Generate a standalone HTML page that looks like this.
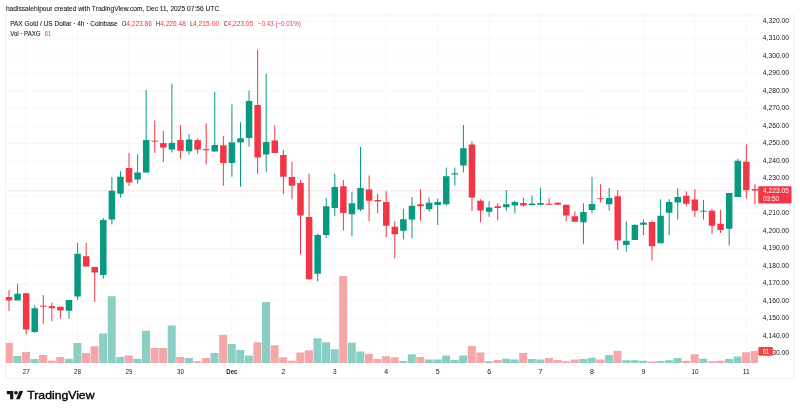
<!DOCTYPE html>
<html><head><meta charset="utf-8"><style>
html,body{margin:0;padding:0;background:#fff;}
body{width:800px;height:412px;overflow:hidden;font-family:"Liberation Sans",sans-serif;}
svg{display:block;}
text{will-change:transform;}
</style></head><body>
<svg width="800" height="412" viewBox="0 0 800 412">
<defs><clipPath id="pane"><rect x="5.5" y="15.0" width="752.5" height="363.6"/></clipPath></defs>
<rect width="800" height="412" fill="#fff"/>
<rect x="5.5" y="20.65" width="752.50" height="1" fill="#F7F7F8"/>
<rect x="5.5" y="38.13" width="752.50" height="1" fill="#F7F7F8"/>
<rect x="5.5" y="55.61" width="752.50" height="1" fill="#F7F7F8"/>
<rect x="5.5" y="73.09" width="752.50" height="1" fill="#F7F7F8"/>
<rect x="5.5" y="90.57" width="752.50" height="1" fill="#F7F7F8"/>
<rect x="5.5" y="108.05" width="752.50" height="1" fill="#F7F7F8"/>
<rect x="5.5" y="125.53" width="752.50" height="1" fill="#F7F7F8"/>
<rect x="5.5" y="143.01" width="752.50" height="1" fill="#F7F7F8"/>
<rect x="5.5" y="160.49" width="752.50" height="1" fill="#F7F7F8"/>
<rect x="5.5" y="177.97" width="752.50" height="1" fill="#F7F7F8"/>
<rect x="5.5" y="195.45" width="752.50" height="1" fill="#F7F7F8"/>
<rect x="5.5" y="212.93" width="752.50" height="1" fill="#F7F7F8"/>
<rect x="5.5" y="230.41" width="752.50" height="1" fill="#F7F7F8"/>
<rect x="5.5" y="247.89" width="752.50" height="1" fill="#F7F7F8"/>
<rect x="5.5" y="265.37" width="752.50" height="1" fill="#F7F7F8"/>
<rect x="5.5" y="282.85" width="752.50" height="1" fill="#F7F7F8"/>
<rect x="5.5" y="300.33" width="752.50" height="1" fill="#F7F7F8"/>
<rect x="5.5" y="317.81" width="752.50" height="1" fill="#F7F7F8"/>
<rect x="5.5" y="335.29" width="752.50" height="1" fill="#F7F7F8"/>
<rect x="5.5" y="352.77" width="752.50" height="1" fill="#F7F7F8"/>
<rect x="25.65" y="15.0" width="1" height="349.00" fill="#F7F7F8"/>
<rect x="77.09" y="15.0" width="1" height="349.00" fill="#F7F7F8"/>
<rect x="128.53" y="15.0" width="1" height="349.00" fill="#F7F7F8"/>
<rect x="179.97" y="15.0" width="1" height="349.00" fill="#F7F7F8"/>
<rect x="231.41" y="15.0" width="1" height="349.00" fill="#F7F7F8"/>
<rect x="282.86" y="15.0" width="1" height="349.00" fill="#F7F7F8"/>
<rect x="334.30" y="15.0" width="1" height="349.00" fill="#F7F7F8"/>
<rect x="385.74" y="15.0" width="1" height="349.00" fill="#F7F7F8"/>
<rect x="437.18" y="15.0" width="1" height="349.00" fill="#F7F7F8"/>
<rect x="488.62" y="15.0" width="1" height="349.00" fill="#F7F7F8"/>
<rect x="540.06" y="15.0" width="1" height="349.00" fill="#F7F7F8"/>
<rect x="591.50" y="15.0" width="1" height="349.00" fill="#F7F7F8"/>
<rect x="642.94" y="15.0" width="1" height="349.00" fill="#F7F7F8"/>
<rect x="694.38" y="15.0" width="1" height="349.00" fill="#F7F7F8"/>
<rect x="745.82" y="15.0" width="1" height="349.00" fill="#F7F7F8"/>
<g clip-path="url(#pane)">
<rect x="4.80" y="343.00" width="8.0" height="20.00" fill="#F5A6A8"/>
<rect x="13.38" y="356.00" width="8.0" height="7.00" fill="#8BCFC4"/>
<rect x="21.95" y="352.00" width="8.0" height="11.00" fill="#F5A6A8"/>
<rect x="30.52" y="359.00" width="8.0" height="4.00" fill="#8BCFC4"/>
<rect x="39.10" y="355.00" width="8.0" height="8.00" fill="#F5A6A8"/>
<rect x="47.67" y="360.75" width="8.0" height="2.25" fill="#F5A6A8"/>
<rect x="56.24" y="357.00" width="8.0" height="6.00" fill="#F5A6A8"/>
<rect x="64.82" y="358.75" width="8.0" height="4.25" fill="#8BCFC4"/>
<rect x="73.39" y="343.00" width="8.0" height="20.00" fill="#8BCFC4"/>
<rect x="81.96" y="353.00" width="8.0" height="10.00" fill="#F5A6A8"/>
<rect x="90.54" y="346.25" width="8.0" height="16.75" fill="#F5A6A8"/>
<rect x="99.11" y="333.50" width="8.0" height="29.50" fill="#8BCFC4"/>
<rect x="107.69" y="296.25" width="8.0" height="66.75" fill="#8BCFC4"/>
<rect x="116.26" y="357.00" width="8.0" height="6.00" fill="#8BCFC4"/>
<rect x="124.83" y="355.50" width="8.0" height="7.50" fill="#F5A6A8"/>
<rect x="133.41" y="358.75" width="8.0" height="4.25" fill="#8BCFC4"/>
<rect x="141.98" y="330.75" width="8.0" height="32.25" fill="#8BCFC4"/>
<rect x="150.55" y="348.00" width="8.0" height="15.00" fill="#F5A6A8"/>
<rect x="159.13" y="348.00" width="8.0" height="15.00" fill="#F5A6A8"/>
<rect x="167.70" y="325.50" width="8.0" height="37.50" fill="#8BCFC4"/>
<rect x="176.27" y="357.00" width="8.0" height="6.00" fill="#F5A6A8"/>
<rect x="184.85" y="358.00" width="8.0" height="5.00" fill="#8BCFC4"/>
<rect x="193.42" y="361.25" width="8.0" height="1.75" fill="#F5A6A8"/>
<rect x="201.99" y="358.00" width="8.0" height="5.00" fill="#F5A6A8"/>
<rect x="210.57" y="353.00" width="8.0" height="10.00" fill="#8BCFC4"/>
<rect x="219.14" y="334.75" width="8.0" height="28.25" fill="#F5A6A8"/>
<rect x="227.71" y="344.00" width="8.0" height="19.00" fill="#8BCFC4"/>
<rect x="236.29" y="350.00" width="8.0" height="13.00" fill="#8BCFC4"/>
<rect x="244.86" y="355.50" width="8.0" height="7.50" fill="#8BCFC4"/>
<rect x="253.44" y="342.25" width="8.0" height="20.75" fill="#F5A6A8"/>
<rect x="262.01" y="302.00" width="8.0" height="61.00" fill="#8BCFC4"/>
<rect x="270.58" y="345.25" width="8.0" height="17.75" fill="#F5A6A8"/>
<rect x="279.16" y="357.25" width="8.0" height="5.75" fill="#F5A6A8"/>
<rect x="287.73" y="360.75" width="8.0" height="2.25" fill="#F5A6A8"/>
<rect x="296.30" y="352.50" width="8.0" height="10.50" fill="#F5A6A8"/>
<rect x="304.88" y="350.25" width="8.0" height="12.75" fill="#F5A6A8"/>
<rect x="313.45" y="338.25" width="8.0" height="24.75" fill="#8BCFC4"/>
<rect x="322.02" y="342.25" width="8.0" height="20.75" fill="#8BCFC4"/>
<rect x="330.60" y="349.25" width="8.0" height="13.75" fill="#8BCFC4"/>
<rect x="339.17" y="276.00" width="8.0" height="87.00" fill="#F5A6A8"/>
<rect x="347.74" y="342.75" width="8.0" height="20.25" fill="#8BCFC4"/>
<rect x="356.32" y="351.50" width="8.0" height="11.50" fill="#8BCFC4"/>
<rect x="364.89" y="354.00" width="8.0" height="9.00" fill="#F5A6A8"/>
<rect x="373.46" y="359.00" width="8.0" height="4.00" fill="#F5A6A8"/>
<rect x="382.04" y="356.25" width="8.0" height="6.75" fill="#F5A6A8"/>
<rect x="390.61" y="357.25" width="8.0" height="5.75" fill="#F5A6A8"/>
<rect x="399.18" y="361.00" width="8.0" height="2.00" fill="#8BCFC4"/>
<rect x="407.76" y="354.25" width="8.0" height="8.75" fill="#8BCFC4"/>
<rect x="416.33" y="357.00" width="8.0" height="6.00" fill="#F5A6A8"/>
<rect x="424.90" y="359.50" width="8.0" height="3.50" fill="#8BCFC4"/>
<rect x="433.48" y="359.50" width="8.0" height="3.50" fill="#8BCFC4"/>
<rect x="442.05" y="355.50" width="8.0" height="7.50" fill="#8BCFC4"/>
<rect x="450.63" y="360.00" width="8.0" height="3.00" fill="#8BCFC4"/>
<rect x="459.20" y="355.50" width="8.0" height="7.50" fill="#8BCFC4"/>
<rect x="467.77" y="346.00" width="8.0" height="17.00" fill="#F5A6A8"/>
<rect x="476.35" y="352.50" width="8.0" height="10.50" fill="#F5A6A8"/>
<rect x="484.92" y="361.25" width="8.0" height="1.75" fill="#8BCFC4"/>
<rect x="493.49" y="360.00" width="8.0" height="3.00" fill="#F5A6A8"/>
<rect x="502.07" y="358.75" width="8.0" height="4.25" fill="#8BCFC4"/>
<rect x="510.64" y="359.50" width="8.0" height="3.50" fill="#8BCFC4"/>
<rect x="519.21" y="353.00" width="8.0" height="10.00" fill="#F5A6A8"/>
<rect x="527.79" y="359.00" width="8.0" height="4.00" fill="#8BCFC4"/>
<rect x="536.36" y="359.50" width="8.0" height="3.50" fill="#8BCFC4"/>
<rect x="544.93" y="358.00" width="8.0" height="5.00" fill="#F5A6A8"/>
<rect x="553.51" y="360.00" width="8.0" height="3.00" fill="#F5A6A8"/>
<rect x="562.08" y="361.25" width="8.0" height="1.75" fill="#F5A6A8"/>
<rect x="570.65" y="359.50" width="8.0" height="3.50" fill="#F5A6A8"/>
<rect x="579.23" y="359.00" width="8.0" height="4.00" fill="#8BCFC4"/>
<rect x="587.80" y="357.75" width="8.0" height="5.25" fill="#8BCFC4"/>
<rect x="596.37" y="359.50" width="8.0" height="3.50" fill="#F5A6A8"/>
<rect x="604.95" y="355.00" width="8.0" height="8.00" fill="#8BCFC4"/>
<rect x="613.52" y="350.75" width="8.0" height="12.25" fill="#F5A6A8"/>
<rect x="622.10" y="360.25" width="8.0" height="2.75" fill="#8BCFC4"/>
<rect x="630.67" y="360.25" width="8.0" height="2.75" fill="#8BCFC4"/>
<rect x="639.24" y="360.75" width="8.0" height="2.25" fill="#8BCFC4"/>
<rect x="647.82" y="361.50" width="8.0" height="1.50" fill="#F5A6A8"/>
<rect x="656.39" y="361.00" width="8.0" height="2.00" fill="#8BCFC4"/>
<rect x="664.96" y="360.25" width="8.0" height="2.75" fill="#8BCFC4"/>
<rect x="673.54" y="358.00" width="8.0" height="5.00" fill="#8BCFC4"/>
<rect x="682.11" y="360.75" width="8.0" height="2.25" fill="#F5A6A8"/>
<rect x="690.68" y="354.25" width="8.0" height="8.75" fill="#F5A6A8"/>
<rect x="699.26" y="358.75" width="8.0" height="4.25" fill="#8BCFC4"/>
<rect x="707.83" y="361.25" width="8.0" height="1.75" fill="#F5A6A8"/>
<rect x="716.40" y="360.75" width="8.0" height="2.25" fill="#F5A6A8"/>
<rect x="724.98" y="359.00" width="8.0" height="4.00" fill="#8BCFC4"/>
<rect x="733.55" y="356.50" width="8.0" height="6.50" fill="#8BCFC4"/>
<rect x="742.12" y="352.25" width="8.0" height="10.75" fill="#F5A6A8"/>
<rect x="750.70" y="351.00" width="8.0" height="12.00" fill="#F5A6A8"/>
</g>
<line x1="7.0" y1="190.8" x2="758.0" y2="190.8" stroke="#F23645" stroke-opacity="0.22" stroke-width="1" stroke-dasharray="3 1"/>
<rect x="8.50" y="290.00" width="1" height="21.00" fill="#F23645"/>
<rect x="5.75" y="297.00" width="6.5" height="3.50" fill="#F23645"/>
<rect x="17.08" y="283.75" width="1" height="16.75" fill="#089981"/>
<rect x="14.33" y="293.75" width="6.5" height="6.75" fill="#089981"/>
<rect x="25.65" y="293.25" width="1" height="41.25" fill="#F23645"/>
<rect x="22.90" y="293.25" width="6.5" height="36.25" fill="#F23645"/>
<rect x="34.22" y="305.50" width="1" height="27.50" fill="#089981"/>
<rect x="31.47" y="308.25" width="6.5" height="23.75" fill="#089981"/>
<rect x="42.80" y="295.00" width="1" height="28.75" fill="#F23645"/>
<rect x="40.05" y="305.75" width="6.5" height="1.00" fill="#F23645"/>
<rect x="51.37" y="302.50" width="1" height="18.75" fill="#F23645"/>
<rect x="48.62" y="306.25" width="6.5" height="2.00" fill="#F23645"/>
<rect x="59.94" y="306.75" width="1" height="12.00" fill="#F23645"/>
<rect x="57.19" y="306.75" width="6.5" height="3.75" fill="#F23645"/>
<rect x="68.52" y="300.00" width="1" height="18.75" fill="#089981"/>
<rect x="65.77" y="300.00" width="6.5" height="10.75" fill="#089981"/>
<rect x="77.09" y="243.00" width="1" height="57.00" fill="#089981"/>
<rect x="74.34" y="253.75" width="6.5" height="42.75" fill="#089981"/>
<rect x="85.66" y="243.00" width="1" height="23.50" fill="#F23645"/>
<rect x="82.91" y="256.25" width="6.5" height="10.25" fill="#F23645"/>
<rect x="94.24" y="267.00" width="1" height="35.00" fill="#F23645"/>
<rect x="91.49" y="267.00" width="6.5" height="5.50" fill="#F23645"/>
<rect x="102.81" y="218.00" width="1" height="60.75" fill="#089981"/>
<rect x="100.06" y="220.00" width="6.5" height="55.00" fill="#089981"/>
<rect x="111.39" y="177.00" width="1" height="47.50" fill="#089981"/>
<rect x="108.64" y="190.75" width="6.5" height="28.75" fill="#089981"/>
<rect x="119.96" y="171.25" width="1" height="26.25" fill="#089981"/>
<rect x="117.21" y="176.75" width="6.5" height="17.00" fill="#089981"/>
<rect x="128.53" y="153.00" width="1" height="32.75" fill="#F23645"/>
<rect x="125.78" y="168.00" width="6.5" height="14.50" fill="#F23645"/>
<rect x="137.11" y="154.25" width="1" height="29.50" fill="#089981"/>
<rect x="134.36" y="172.50" width="6.5" height="7.00" fill="#089981"/>
<rect x="145.68" y="90.00" width="1" height="82.50" fill="#089981"/>
<rect x="142.93" y="140.10" width="6.5" height="32.40" fill="#089981"/>
<rect x="154.25" y="120.40" width="1" height="32.60" fill="#F23645"/>
<rect x="151.50" y="140.70" width="6.5" height="1.00" fill="#F23645"/>
<rect x="162.83" y="130.90" width="1" height="31.10" fill="#F23645"/>
<rect x="160.08" y="143.10" width="6.5" height="4.50" fill="#F23645"/>
<rect x="171.40" y="83.80" width="1" height="68.70" fill="#089981"/>
<rect x="168.65" y="142.90" width="6.5" height="6.70" fill="#089981"/>
<rect x="179.97" y="125.25" width="1" height="33.50" fill="#F23645"/>
<rect x="177.22" y="140.10" width="6.5" height="10.65" fill="#F23645"/>
<rect x="188.55" y="134.00" width="1" height="21.00" fill="#089981"/>
<rect x="185.80" y="139.50" width="6.5" height="11.75" fill="#089981"/>
<rect x="197.12" y="138.20" width="1" height="15.55" fill="#F23645"/>
<rect x="194.37" y="140.10" width="6.5" height="9.50" fill="#F23645"/>
<rect x="205.69" y="123.20" width="1" height="41.30" fill="#F23645"/>
<rect x="202.94" y="149.10" width="6.5" height="1.20" fill="#F23645"/>
<rect x="214.27" y="91.90" width="1" height="59.60" fill="#089981"/>
<rect x="211.52" y="145.00" width="6.5" height="6.50" fill="#089981"/>
<rect x="222.84" y="135.90" width="1" height="49.85" fill="#F23645"/>
<rect x="220.09" y="145.30" width="6.5" height="17.70" fill="#F23645"/>
<rect x="231.41" y="104.40" width="1" height="72.35" fill="#089981"/>
<rect x="228.66" y="142.30" width="6.5" height="20.70" fill="#089981"/>
<rect x="239.99" y="122.30" width="1" height="64.45" fill="#089981"/>
<rect x="237.24" y="138.20" width="6.5" height="4.30" fill="#089981"/>
<rect x="248.56" y="90.50" width="1" height="56.25" fill="#089981"/>
<rect x="245.81" y="101.00" width="6.5" height="37.00" fill="#089981"/>
<rect x="257.13" y="49.50" width="1" height="124.25" fill="#F23645"/>
<rect x="254.38" y="105.00" width="6.5" height="52.50" fill="#F23645"/>
<rect x="265.71" y="73.75" width="1" height="98.00" fill="#089981"/>
<rect x="262.96" y="142.00" width="6.5" height="12.50" fill="#089981"/>
<rect x="274.28" y="125.75" width="1" height="27.25" fill="#F23645"/>
<rect x="271.53" y="140.50" width="6.5" height="12.50" fill="#F23645"/>
<rect x="282.86" y="150.00" width="1" height="43.75" fill="#F23645"/>
<rect x="280.11" y="155.00" width="6.5" height="21.75" fill="#F23645"/>
<rect x="291.43" y="161.75" width="1" height="37.50" fill="#F23645"/>
<rect x="288.68" y="177.00" width="6.5" height="8.75" fill="#F23645"/>
<rect x="300.00" y="180.00" width="1" height="74.50" fill="#F23645"/>
<rect x="297.25" y="183.00" width="6.5" height="32.50" fill="#F23645"/>
<rect x="308.58" y="173.75" width="1" height="106.25" fill="#F23645"/>
<rect x="305.83" y="217.00" width="6.5" height="62.25" fill="#F23645"/>
<rect x="317.15" y="233.75" width="1" height="47.50" fill="#089981"/>
<rect x="314.40" y="235.00" width="6.5" height="38.75" fill="#089981"/>
<rect x="325.72" y="198.00" width="1" height="40.00" fill="#089981"/>
<rect x="322.97" y="206.25" width="6.5" height="28.75" fill="#089981"/>
<rect x="334.30" y="173.75" width="1" height="42.50" fill="#089981"/>
<rect x="331.55" y="187.00" width="6.5" height="21.00" fill="#089981"/>
<rect x="342.87" y="180.00" width="1" height="50.50" fill="#F23645"/>
<rect x="340.12" y="186.25" width="6.5" height="26.75" fill="#F23645"/>
<rect x="351.44" y="192.00" width="1" height="44.25" fill="#089981"/>
<rect x="348.69" y="203.25" width="6.5" height="11.00" fill="#089981"/>
<rect x="360.02" y="147.00" width="1" height="64.25" fill="#089981"/>
<rect x="357.27" y="188.00" width="6.5" height="21.50" fill="#089981"/>
<rect x="368.59" y="175.50" width="1" height="45.75" fill="#F23645"/>
<rect x="365.84" y="189.50" width="6.5" height="11.25" fill="#F23645"/>
<rect x="377.16" y="193.75" width="1" height="19.50" fill="#F23645"/>
<rect x="374.41" y="200.00" width="6.5" height="1.50" fill="#F23645"/>
<rect x="385.74" y="191.25" width="1" height="45.75" fill="#F23645"/>
<rect x="382.99" y="202.00" width="6.5" height="23.75" fill="#F23645"/>
<rect x="394.31" y="221.25" width="1" height="37.00" fill="#F23645"/>
<rect x="391.56" y="226.75" width="6.5" height="7.50" fill="#F23645"/>
<rect x="402.88" y="208.75" width="1" height="30.50" fill="#089981"/>
<rect x="400.13" y="219.25" width="6.5" height="11.50" fill="#089981"/>
<rect x="411.46" y="197.00" width="1" height="41.25" fill="#089981"/>
<rect x="408.71" y="205.75" width="6.5" height="13.75" fill="#089981"/>
<rect x="420.03" y="189.25" width="1" height="31.50" fill="#F23645"/>
<rect x="417.28" y="204.25" width="6.5" height="2.00" fill="#F23645"/>
<rect x="428.60" y="197.50" width="1" height="14.25" fill="#089981"/>
<rect x="425.85" y="202.75" width="6.5" height="6.50" fill="#089981"/>
<rect x="437.18" y="198.75" width="1" height="26.25" fill="#089981"/>
<rect x="434.43" y="202.00" width="6.5" height="3.00" fill="#089981"/>
<rect x="445.75" y="167.50" width="1" height="38.25" fill="#089981"/>
<rect x="443.00" y="176.25" width="6.5" height="28.00" fill="#089981"/>
<rect x="454.33" y="167.50" width="1" height="18.00" fill="#089981"/>
<rect x="451.58" y="173.25" width="6.5" height="1.25" fill="#089981"/>
<rect x="462.90" y="125.00" width="1" height="47.50" fill="#089981"/>
<rect x="460.15" y="148.25" width="6.5" height="17.25" fill="#089981"/>
<rect x="471.47" y="141.25" width="1" height="70.00" fill="#F23645"/>
<rect x="468.72" y="144.50" width="6.5" height="53.00" fill="#F23645"/>
<rect x="480.05" y="199.25" width="1" height="23.25" fill="#F23645"/>
<rect x="477.30" y="200.75" width="6.5" height="9.75" fill="#F23645"/>
<rect x="488.62" y="201.25" width="1" height="15.50" fill="#089981"/>
<rect x="485.87" y="207.50" width="6.5" height="4.25" fill="#089981"/>
<rect x="497.19" y="203.25" width="1" height="17.25" fill="#F23645"/>
<rect x="494.44" y="206.25" width="6.5" height="1.75" fill="#F23645"/>
<rect x="505.77" y="190.00" width="1" height="20.75" fill="#089981"/>
<rect x="503.02" y="204.25" width="6.5" height="3.00" fill="#089981"/>
<rect x="514.34" y="200.75" width="1" height="12.50" fill="#089981"/>
<rect x="511.59" y="202.00" width="6.5" height="3.50" fill="#089981"/>
<rect x="522.91" y="198.00" width="1" height="8.75" fill="#F23645"/>
<rect x="520.16" y="203.00" width="6.5" height="2.50" fill="#F23645"/>
<rect x="531.49" y="195.50" width="1" height="9.75" fill="#089981"/>
<rect x="528.74" y="203.50" width="6.5" height="1.75" fill="#089981"/>
<rect x="540.06" y="187.50" width="1" height="17.50" fill="#089981"/>
<rect x="537.31" y="203.00" width="6.5" height="1.75" fill="#089981"/>
<rect x="548.63" y="198.00" width="1" height="6.75" fill="#F23645"/>
<rect x="545.88" y="203.75" width="6.5" height="1.00" fill="#F23645"/>
<rect x="557.21" y="202.00" width="1" height="2.75" fill="#F23645"/>
<rect x="554.46" y="202.75" width="6.5" height="2.00" fill="#F23645"/>
<rect x="565.78" y="204.75" width="1" height="16.50" fill="#F23645"/>
<rect x="563.03" y="204.75" width="6.5" height="10.75" fill="#F23645"/>
<rect x="574.35" y="211.25" width="1" height="10.50" fill="#F23645"/>
<rect x="571.60" y="216.25" width="6.5" height="5.50" fill="#F23645"/>
<rect x="582.93" y="203.25" width="1" height="41.00" fill="#089981"/>
<rect x="580.18" y="212.00" width="6.5" height="10.25" fill="#089981"/>
<rect x="591.50" y="177.00" width="1" height="36.25" fill="#089981"/>
<rect x="588.75" y="204.00" width="6.5" height="6.00" fill="#089981"/>
<rect x="600.07" y="184.25" width="1" height="18.25" fill="#F23645"/>
<rect x="597.32" y="198.25" width="6.5" height="1.00" fill="#F23645"/>
<rect x="608.65" y="188.00" width="1" height="22.50" fill="#089981"/>
<rect x="605.90" y="198.00" width="6.5" height="6.25" fill="#089981"/>
<rect x="617.22" y="190.00" width="1" height="60.00" fill="#F23645"/>
<rect x="614.47" y="196.25" width="6.5" height="44.25" fill="#F23645"/>
<rect x="625.80" y="221.25" width="1" height="30.50" fill="#089981"/>
<rect x="623.05" y="240.75" width="6.5" height="4.25" fill="#089981"/>
<rect x="634.37" y="223.75" width="1" height="16.25" fill="#089981"/>
<rect x="631.62" y="225.00" width="6.5" height="15.00" fill="#089981"/>
<rect x="642.94" y="219.50" width="1" height="15.50" fill="#089981"/>
<rect x="640.19" y="222.50" width="6.5" height="2.25" fill="#089981"/>
<rect x="651.52" y="220.50" width="1" height="40.00" fill="#F23645"/>
<rect x="648.77" y="222.00" width="6.5" height="24.25" fill="#F23645"/>
<rect x="660.09" y="199.25" width="1" height="44.00" fill="#089981"/>
<rect x="657.34" y="215.75" width="6.5" height="27.50" fill="#089981"/>
<rect x="668.66" y="199.25" width="1" height="35.75" fill="#089981"/>
<rect x="665.91" y="202.00" width="6.5" height="10.75" fill="#089981"/>
<rect x="677.24" y="188.00" width="1" height="31.50" fill="#089981"/>
<rect x="674.49" y="197.00" width="6.5" height="5.50" fill="#089981"/>
<rect x="685.81" y="191.25" width="1" height="15.00" fill="#F23645"/>
<rect x="683.06" y="195.75" width="6.5" height="8.00" fill="#F23645"/>
<rect x="694.38" y="189.25" width="1" height="27.75" fill="#F23645"/>
<rect x="691.63" y="199.50" width="6.5" height="11.25" fill="#F23645"/>
<rect x="702.96" y="200.00" width="1" height="19.50" fill="#089981"/>
<rect x="700.21" y="210.75" width="6.5" height="1.00" fill="#089981"/>
<rect x="711.53" y="208.75" width="1" height="25.25" fill="#F23645"/>
<rect x="708.78" y="210.75" width="6.5" height="15.00" fill="#F23645"/>
<rect x="720.10" y="210.00" width="1" height="23.00" fill="#F23645"/>
<rect x="717.35" y="223.75" width="6.5" height="6.25" fill="#F23645"/>
<rect x="728.68" y="193.00" width="1" height="52.50" fill="#089981"/>
<rect x="725.93" y="193.00" width="6.5" height="35.75" fill="#089981"/>
<rect x="737.25" y="158.75" width="1" height="38.25" fill="#089981"/>
<rect x="734.50" y="160.75" width="6.5" height="36.25" fill="#089981"/>
<rect x="745.82" y="144.50" width="1" height="54.25" fill="#F23645"/>
<rect x="743.07" y="161.75" width="6.5" height="28.25" fill="#F23645"/>
<rect x="754.40" y="184.20" width="1" height="19.90" fill="#F23645"/>
<rect x="751.65" y="189.10" width="6.5" height="1.40" fill="#F23645"/>
<text x="762.8" y="23.0" font-family="'Liberation Sans', sans-serif" font-size="6.5" font-weight="400" fill="#131722" textLength="26.3" lengthAdjust="spacingAndGlyphs" text-anchor="start">4,320.00</text>
<text x="762.8" y="40.48" font-family="'Liberation Sans', sans-serif" font-size="6.5" font-weight="400" fill="#131722" textLength="26.3" lengthAdjust="spacingAndGlyphs" text-anchor="start">4,310.00</text>
<text x="762.8" y="57.96" font-family="'Liberation Sans', sans-serif" font-size="6.5" font-weight="400" fill="#131722" textLength="26.3" lengthAdjust="spacingAndGlyphs" text-anchor="start">4,300.00</text>
<text x="762.8" y="75.44" font-family="'Liberation Sans', sans-serif" font-size="6.5" font-weight="400" fill="#131722" textLength="26.3" lengthAdjust="spacingAndGlyphs" text-anchor="start">4,290.00</text>
<text x="762.8" y="92.92" font-family="'Liberation Sans', sans-serif" font-size="6.5" font-weight="400" fill="#131722" textLength="26.3" lengthAdjust="spacingAndGlyphs" text-anchor="start">4,280.00</text>
<text x="762.8" y="110.4" font-family="'Liberation Sans', sans-serif" font-size="6.5" font-weight="400" fill="#131722" textLength="26.3" lengthAdjust="spacingAndGlyphs" text-anchor="start">4,270.00</text>
<text x="762.8" y="127.88" font-family="'Liberation Sans', sans-serif" font-size="6.5" font-weight="400" fill="#131722" textLength="26.3" lengthAdjust="spacingAndGlyphs" text-anchor="start">4,260.00</text>
<text x="762.8" y="145.36" font-family="'Liberation Sans', sans-serif" font-size="6.5" font-weight="400" fill="#131722" textLength="26.3" lengthAdjust="spacingAndGlyphs" text-anchor="start">4,250.00</text>
<text x="762.8" y="162.84" font-family="'Liberation Sans', sans-serif" font-size="6.5" font-weight="400" fill="#131722" textLength="26.3" lengthAdjust="spacingAndGlyphs" text-anchor="start">4,240.00</text>
<text x="762.8" y="180.32" font-family="'Liberation Sans', sans-serif" font-size="6.5" font-weight="400" fill="#131722" textLength="26.3" lengthAdjust="spacingAndGlyphs" text-anchor="start">4,230.00</text>
<text x="762.8" y="197.8" font-family="'Liberation Sans', sans-serif" font-size="6.5" font-weight="400" fill="#131722" textLength="26.3" lengthAdjust="spacingAndGlyphs" text-anchor="start">4,220.00</text>
<text x="762.8" y="215.28" font-family="'Liberation Sans', sans-serif" font-size="6.5" font-weight="400" fill="#131722" textLength="26.3" lengthAdjust="spacingAndGlyphs" text-anchor="start">4,210.00</text>
<text x="762.8" y="232.76" font-family="'Liberation Sans', sans-serif" font-size="6.5" font-weight="400" fill="#131722" textLength="26.3" lengthAdjust="spacingAndGlyphs" text-anchor="start">4,200.00</text>
<text x="762.8" y="250.24" font-family="'Liberation Sans', sans-serif" font-size="6.5" font-weight="400" fill="#131722" textLength="26.3" lengthAdjust="spacingAndGlyphs" text-anchor="start">4,190.00</text>
<text x="762.8" y="267.72" font-family="'Liberation Sans', sans-serif" font-size="6.5" font-weight="400" fill="#131722" textLength="26.3" lengthAdjust="spacingAndGlyphs" text-anchor="start">4,180.00</text>
<text x="762.8" y="285.2" font-family="'Liberation Sans', sans-serif" font-size="6.5" font-weight="400" fill="#131722" textLength="26.3" lengthAdjust="spacingAndGlyphs" text-anchor="start">4,170.00</text>
<text x="762.8" y="302.68" font-family="'Liberation Sans', sans-serif" font-size="6.5" font-weight="400" fill="#131722" textLength="26.3" lengthAdjust="spacingAndGlyphs" text-anchor="start">4,160.00</text>
<text x="762.8" y="320.16" font-family="'Liberation Sans', sans-serif" font-size="6.5" font-weight="400" fill="#131722" textLength="26.3" lengthAdjust="spacingAndGlyphs" text-anchor="start">4,150.00</text>
<text x="762.8" y="337.64" font-family="'Liberation Sans', sans-serif" font-size="6.5" font-weight="400" fill="#131722" textLength="26.3" lengthAdjust="spacingAndGlyphs" text-anchor="start">4,140.00</text>
<text x="762.8" y="355.12" font-family="'Liberation Sans', sans-serif" font-size="6.5" font-weight="400" fill="#131722" textLength="26.3" lengthAdjust="spacingAndGlyphs" text-anchor="start">4,130.00</text>
<text x="26.15" y="373.7" font-family="'Liberation Sans', sans-serif" font-size="7.1" font-weight="400" fill="#131722" textLength="7.0" lengthAdjust="spacingAndGlyphs" text-anchor="middle">27</text>
<text x="77.59" y="373.7" font-family="'Liberation Sans', sans-serif" font-size="7.1" font-weight="400" fill="#131722" textLength="7.0" lengthAdjust="spacingAndGlyphs" text-anchor="middle">28</text>
<text x="129.03" y="373.7" font-family="'Liberation Sans', sans-serif" font-size="7.1" font-weight="400" fill="#131722" textLength="7.0" lengthAdjust="spacingAndGlyphs" text-anchor="middle">29</text>
<text x="180.47" y="373.7" font-family="'Liberation Sans', sans-serif" font-size="7.1" font-weight="400" fill="#131722" textLength="7.0" lengthAdjust="spacingAndGlyphs" text-anchor="middle">30</text>
<text x="231.91" y="373.8" font-family="'Liberation Sans', sans-serif" font-size="6.6" font-weight="700" fill="#131722" textLength="11.1" lengthAdjust="spacingAndGlyphs" text-anchor="middle">Dec</text>
<text x="283.36" y="373.7" font-family="'Liberation Sans', sans-serif" font-size="7.1" font-weight="400" fill="#131722" textLength="3.9" lengthAdjust="spacingAndGlyphs" text-anchor="middle">2</text>
<text x="334.8" y="373.7" font-family="'Liberation Sans', sans-serif" font-size="7.1" font-weight="400" fill="#131722" textLength="3.9" lengthAdjust="spacingAndGlyphs" text-anchor="middle">3</text>
<text x="386.24" y="373.7" font-family="'Liberation Sans', sans-serif" font-size="7.1" font-weight="400" fill="#131722" textLength="3.9" lengthAdjust="spacingAndGlyphs" text-anchor="middle">4</text>
<text x="437.68" y="373.7" font-family="'Liberation Sans', sans-serif" font-size="7.1" font-weight="400" fill="#131722" textLength="3.9" lengthAdjust="spacingAndGlyphs" text-anchor="middle">5</text>
<text x="489.12" y="373.7" font-family="'Liberation Sans', sans-serif" font-size="7.1" font-weight="400" fill="#131722" textLength="3.9" lengthAdjust="spacingAndGlyphs" text-anchor="middle">6</text>
<text x="540.56" y="373.7" font-family="'Liberation Sans', sans-serif" font-size="7.1" font-weight="400" fill="#131722" textLength="3.9" lengthAdjust="spacingAndGlyphs" text-anchor="middle">7</text>
<text x="592.0" y="373.7" font-family="'Liberation Sans', sans-serif" font-size="7.1" font-weight="400" fill="#131722" textLength="3.9" lengthAdjust="spacingAndGlyphs" text-anchor="middle">8</text>
<text x="643.44" y="373.7" font-family="'Liberation Sans', sans-serif" font-size="7.1" font-weight="400" fill="#131722" textLength="3.9" lengthAdjust="spacingAndGlyphs" text-anchor="middle">9</text>
<text x="694.88" y="373.7" font-family="'Liberation Sans', sans-serif" font-size="7.1" font-weight="400" fill="#131722" textLength="7.0" lengthAdjust="spacingAndGlyphs" text-anchor="middle">10</text>
<text x="746.32" y="373.7" font-family="'Liberation Sans', sans-serif" font-size="7.1" font-weight="400" fill="#131722" textLength="7.0" lengthAdjust="spacingAndGlyphs" text-anchor="middle">11</text>
<rect x="758.25" y="186.2" width="33.3" height="17.3" rx="1" fill="#F23645"/>
<text x="763" y="193.1" font-family="'Liberation Sans', sans-serif" font-size="6.4" font-weight="400" fill="#ffffff" textLength="26" lengthAdjust="spacingAndGlyphs" text-anchor="start">4,223.05</text>
<text x="763" y="200.8" font-family="'Liberation Sans', sans-serif" font-size="6.4" font-weight="400" fill="#ffffff" textLength="16.2" lengthAdjust="spacingAndGlyphs" text-anchor="start">03:50</text>
<rect x="758.3" y="346.9" width="14.6" height="8.9" rx="1" fill="#EE4646"/>
<text x="762.9" y="353.8" font-family="'Liberation Sans', sans-serif" font-size="6.6" font-weight="400" fill="#ffffff" textLength="6.3" lengthAdjust="spacingAndGlyphs" text-anchor="start">61</text>
<text x="10.2" y="25.8" font-family="'Liberation Sans', sans-serif" font-size="6.4" font-weight="400" fill="#131722" stroke="#131722" stroke-width="0.08" textLength="107.5" lengthAdjust="spacingAndGlyphs" text-anchor="start">PAX Gold / US Dollar · 4h · Coinbase</text>
<text x="121.9" y="25.8" font-family="'Liberation Sans', sans-serif" font-size="6.4" font-weight="400" fill="#131722" textLength="4.3" lengthAdjust="spacingAndGlyphs" text-anchor="start">O</text>
<text x="126.3" y="25.8" font-family="'Liberation Sans', sans-serif" font-size="6.4" font-weight="400" fill="#F23645" textLength="25.6" lengthAdjust="spacingAndGlyphs" text-anchor="start">4,223.86</text>
<text x="156.0" y="25.8" font-family="'Liberation Sans', sans-serif" font-size="6.4" font-weight="400" fill="#131722" textLength="4.0" lengthAdjust="spacingAndGlyphs" text-anchor="start">H</text>
<text x="160.2" y="25.8" font-family="'Liberation Sans', sans-serif" font-size="6.4" font-weight="400" fill="#F23645" textLength="25.7" lengthAdjust="spacingAndGlyphs" text-anchor="start">4,226.48</text>
<text x="190.2" y="25.8" font-family="'Liberation Sans', sans-serif" font-size="6.4" font-weight="400" fill="#131722" textLength="2.8" lengthAdjust="spacingAndGlyphs" text-anchor="start">L</text>
<text x="193.0" y="25.8" font-family="'Liberation Sans', sans-serif" font-size="6.4" font-weight="400" fill="#F23645" textLength="26.2" lengthAdjust="spacingAndGlyphs" text-anchor="start">4,215.00</text>
<text x="223.7" y="25.8" font-family="'Liberation Sans', sans-serif" font-size="6.4" font-weight="400" fill="#131722" textLength="3.6" lengthAdjust="spacingAndGlyphs" text-anchor="start">C</text>
<text x="227.5" y="25.8" font-family="'Liberation Sans', sans-serif" font-size="6.4" font-weight="400" fill="#F23645" textLength="25.7" lengthAdjust="spacingAndGlyphs" text-anchor="start">4,223.05</text>
<text x="258.0" y="25.8" font-family="'Liberation Sans', sans-serif" font-size="6.4" font-weight="400" fill="#F23645" textLength="42.8" lengthAdjust="spacingAndGlyphs" text-anchor="start">−0.43 (−0.01%)</text>
<text x="10.2" y="35.5" font-family="'Liberation Sans', sans-serif" font-size="6.4" font-weight="400" fill="#131722" stroke="#131722" stroke-width="0.08" textLength="30.3" lengthAdjust="spacingAndGlyphs" text-anchor="start">Vol · PAXG</text>
<text x="44.8" y="35.5" font-family="'Liberation Sans', sans-serif" font-size="6.4" font-weight="400" fill="#F23645" textLength="6.4" lengthAdjust="spacingAndGlyphs" text-anchor="start">61</text>
<text x="5.9" y="10.7" font-family="'Liberation Sans', sans-serif" font-size="6.6" font-weight="400" fill="#131722" stroke="#131722" stroke-width="0.08" textLength="213.3" lengthAdjust="spacingAndGlyphs" text-anchor="start">hadissalehipour created with TradingView.com, Dec 11, 2025 07:56 UTC</text>
<rect x="5.5" y="15.0" width="788.80" height="363.60" fill="none" stroke="#EFEFEF" stroke-width="1" rx="1"/>
<g transform="translate(6.9,389.18) scale(0.456)" fill="#131722"><path d="M14 22H7V11H0V4h14v18zM28 22h-8l7.5-18h8L28 22z"/><circle cx="20" cy="8" r="4"/></g>
<text x="27.3" y="398.9" font-family="'Liberation Sans', sans-serif" font-size="11.2" font-weight="400" fill="#000" stroke="#000" stroke-width="0.35" textLength="67.2" lengthAdjust="spacingAndGlyphs" text-anchor="start">TradingView</text>
</svg>
</body></html>
